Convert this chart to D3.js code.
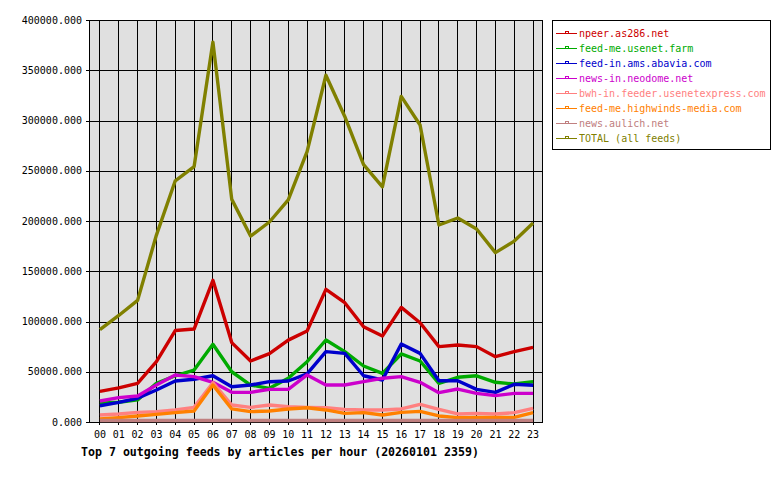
<!DOCTYPE html>
<html>
<head>
<meta charset="utf-8">
<script src="https://cdn.jsdelivr.net/npm/d3@7"></script>
<style>
    body { margin: 0; background: #fff; }
    svg { display: block; }
    text { font-family: "DejaVu Sans Mono", monospace; }
</style>
</head>
<body>
<div id="chart"></div>
<script>
const hours = ["00","01","02","03","04","05","06","07","08","09","10","11",
               "12","13","14","15","16","17","18","19","20","21","22","23"];

const yTicks = [0, 50000, 100000, 150000, 200000, 250000, 300000, 350000, 400000];

const feedNames = [
    "npeer.as286.net",
    "feed-me.usenet.farm",
    "feed-in.ams.abavia.com",
    "news-in.neodome.net",
    "bwh-in.feeder.usenetexpress.com",
    "feed-me.highwinds-media.com",
    "news.aulich.net",
    "TOTAL (all feeds)",
];

const npeer = [30500, 34000, 38500, 60000, 91000, 92500, 141000, 79000, 60700, 68000, 81500, 90500,
               132000, 118700, 94800, 85500, 114000, 98800, 75000, 76600, 75000, 65000, 70000, 74300];
const usenetFarm = [18600, 19600, 22000, 38500, 46000, 51700, 77300, 50000, 36800, 33500, 43500, 60000,
                    81600, 70000, 55700, 48400, 67700, 60700, 38500, 44500, 46000, 39500, 37800, 40100];
const abavia = [16200, 19600, 23600, 31800, 40800, 42500, 46000, 35100, 36800, 40100, 40800, 47800,
                70000, 68300, 46000, 41800, 77600, 68300, 41100, 41100, 32500, 29500, 37500, 36500];
const neodome = [20900, 24200, 25900, 36800, 46800, 45100, 39500, 29500, 29500, 32500, 32500, 46800,
                 36800, 36800, 40100, 43500, 45100, 39500, 29200, 32800, 28500, 26200, 28500, 28500];
const usenetexpress = [7000, 8000, 9600, 10300, 12000, 14600, 39100, 16900, 14600, 16900, 15200, 14600,
                       14200, 12600, 12000, 12000, 13000, 17600, 12600, 8000, 8600, 8000, 9300, 13600];
const highwinds = [3000, 4300, 6000, 7600, 9300, 11000, 36800, 13000, 10300, 11000, 13000, 14200,
                   12000, 8600, 9300, 7000, 9600, 10600, 6000, 4300, 4600, 4600, 4600, 9300];
const aulich = [1500, 1500, 1500, 1500, 1500, 1500, 1500, 1500, 1500, 1500, 1500, 1500,
                1500, 1500, 1500, 1500, 1500, 1500, 1500, 1500, 1500, 1500, 1500, 1500];
const total = [92000, 106000, 121000, 186000, 240000, 254000, 378000, 221500, 185000, 199000, 221000, 269000,
               345000, 304000, 256000, 234000, 324000, 295500, 196000, 203000, 192000, 168500, 180000, 198000];

const colors = ["#cc0000", "#00aa00", "#0000cc", "#cc00cc", "#ff8080", "#ff8000", "#c08080", "#808000"];

const series = [npeer, usenetFarm, abavia, neodome, usenetexpress, highwinds, aulich, total]
    .map((values, i) => ({ name: feedNames[i], color: colors[i], values }));

const width = 780;
const height = 480;
const plot = { left: 89, right: 542, top: 20, bottom: 422 };

const svg = d3.select("#chart")
    .append("svg")
    .attr("width", width)
    .attr("height", height);

// scales
const xScale = d3.scaleLinear()
    .domain([-0.5, hours.length - 0.5])
    .range([plot.left + 1, plot.right]);

const yScale = d3.scaleLinear()
    .domain([0, 400000])
    .range([plot.bottom, plot.top]);

// background
svg.append("rect")
    .attr("x", plot.left)
    .attr("y", plot.top)
    .attr("width", plot.right - plot.left)
    .attr("height", plot.bottom - plot.top)
    .attr("fill", "#e0e0e0");

// grid
const grid = svg.append("g")
    .attr("shape-rendering", "crispEdges")
    .attr("stroke", "#000")
    .attr("stroke-width", 1);

grid.selectAll(".vgrid")
    .data(hours)
    .join("line")
    .attr("class", "vgrid")
    .attr("x1", (d, i) => Math.round(xScale(i)) + 0.5)
    .attr("x2", (d, i) => Math.round(xScale(i)) + 0.5)
    .attr("y1", plot.top)
    .attr("y2", plot.bottom + 3);

grid.selectAll(".hgrid")
    .data(yTicks)
    .join("line")
    .attr("class", "hgrid")
    .attr("x1", plot.left - 3)
    .attr("x2", plot.right)
    .attr("y1", (d) => Math.round(yScale(d)) + 0.5)
    .attr("y2", (d) => Math.round(yScale(d)) + 0.5);

// frame
svg.append("rect")
    .attr("x", plot.left + 0.5)
    .attr("y", plot.top + 0.5)
    .attr("width", plot.right - plot.left)
    .attr("height", plot.bottom - plot.top)
    .attr("fill", "none")
    .attr("stroke", "#000")
    .attr("shape-rendering", "crispEdges");

// axis labels
svg.append("g")
    .selectAll("text")
    .data(yTicks)
    .join("text")
    .attr("x", plot.left - 7)
    .attr("y", (d) => yScale(d))
    .attr("dy", "0.35em")
    .attr("text-anchor", "end")
    .attr("font-size", 10)
    .text((d) => d3.format(".3f")(d));

svg.append("g")
    .selectAll("text")
    .data(hours)
    .join("text")
    .attr("x", (d, i) => xScale(i) + 0.5)
    .attr("y", plot.bottom + 16)
    .attr("text-anchor", "middle")
    .attr("font-size", 10)
    .text((d) => d);

// lines
const line = d3.line()
    .x((d, i) => xScale(i) + 0.5)
    .y((d) => yScale(d));

svg.append("g")
    .selectAll("path")
    .data(series)
    .join("path")
    .attr("d", (d) => line(d.values))
    .attr("fill", "none")
    .attr("stroke", (d) => d.color)
    .attr("stroke-width", 3.4)
    .attr("stroke-linejoin", "round");

// title
svg.append("text")
    .attr("x", 81)
    .attr("y", 456)
    .attr("font-size", 11.6)
    .attr("font-weight", "bold")
    .text("Top 7 outgoing feeds by articles per hour (20260101 2359)");

// legend
const legend = svg.append("g").attr("class", "legend");

legend.append("rect")
    .attr("x", 552.5)
    .attr("y", 20.5)
    .attr("width", 218)
    .attr("height", 129)
    .attr("fill", "#fff")
    .attr("stroke", "#000")
    .attr("shape-rendering", "crispEdges");

series.forEach((s, i) => {
    const item = legend.append("g")
        .attr("transform", `translate(0, ${33 + i * 15})`)
        .attr("shape-rendering", "crispEdges");

    item.append("line")
        .attr("x1", 556)
        .attr("x2", 577)
        .attr("y1", 0.5)
        .attr("y2", 0.5)
        .attr("stroke", s.color);

    item.append("rect")
        .attr("x", 565.5)
        .attr("y", -1.5)
        .attr("width", 3)
        .attr("height", 2)
        .attr("fill", "none")
        .attr("stroke", s.color);

    item.append("text")
        .attr("x", 579)
        .attr("y", 0)
        .attr("dy", "0.35em")
        .attr("font-size", 10)
        .attr("fill", s.color)
        .text(s.name);
});
</script>
</body>
</html>
